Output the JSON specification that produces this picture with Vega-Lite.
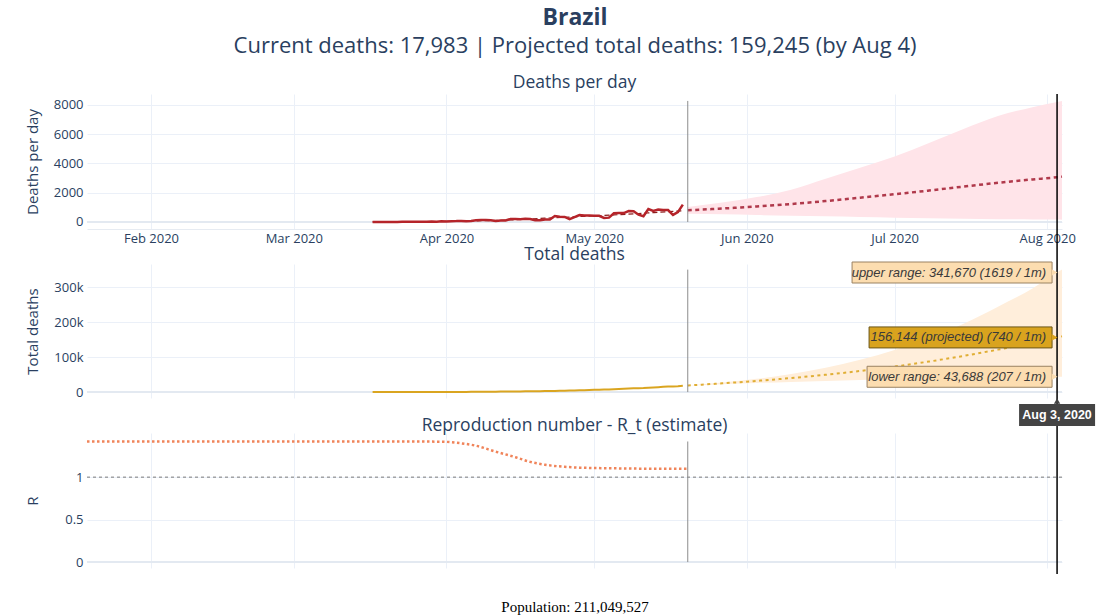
{
  "$schema": "https://vega.github.io/schema/vega-lite/v6.json",
  "background": "white",
  "padding": {"left": 25, "top": 6, "right": 5, "bottom": 5},
  "title": {
    "text": "Brazil",
    "subtitle": "Current deaths: 17,983 | Projected total deaths: 159,245 (by Aug 4)",
    "anchor": "middle",
    "dx": 15,
    "font": "Open Sans",
    "fontSize": 23,
    "fontWeight": "bold",
    "color": "#2a3f5f",
    "subtitleFont": "Open Sans",
    "subtitleFontSize": 22,
    "subtitleColor": "#2a3f5f",
    "subtitlePadding": 6,
    "offset": 17
  },
  "datasets": {
    "obs": [
      {"date": "2020-03-17", "deaths": 1, "total": 1},
      {"date": "2020-03-18", "deaths": 3, "total": 4},
      {"date": "2020-03-19", "deaths": 2, "total": 6},
      {"date": "2020-03-20", "deaths": 5, "total": 11},
      {"date": "2020-03-21", "deaths": 7, "total": 18},
      {"date": "2020-03-22", "deaths": 7, "total": 25},
      {"date": "2020-03-23", "deaths": 9, "total": 34},
      {"date": "2020-03-24", "deaths": 12, "total": 46},
      {"date": "2020-03-25", "deaths": 13, "total": 59},
      {"date": "2020-03-26", "deaths": 18, "total": 77},
      {"date": "2020-03-27", "deaths": 15, "total": 92},
      {"date": "2020-03-28", "deaths": 19, "total": 111},
      {"date": "2020-03-29", "deaths": 25, "total": 136},
      {"date": "2020-03-30", "deaths": 23, "total": 159},
      {"date": "2020-03-31", "deaths": 42, "total": 201},
      {"date": "2020-04-01", "deaths": 40, "total": 241},
      {"date": "2020-04-02", "deaths": 58, "total": 299},
      {"date": "2020-04-03", "deaths": 60, "total": 359},
      {"date": "2020-04-04", "deaths": 73, "total": 432},
      {"date": "2020-04-05", "deaths": 54, "total": 486},
      {"date": "2020-04-06", "deaths": 67, "total": 553},
      {"date": "2020-04-07", "deaths": 114, "total": 667},
      {"date": "2020-04-08", "deaths": 133, "total": 800},
      {"date": "2020-04-09", "deaths": 141, "total": 941},
      {"date": "2020-04-10", "deaths": 115, "total": 1056},
      {"date": "2020-04-11", "deaths": 68, "total": 1124},
      {"date": "2020-04-12", "deaths": 99, "total": 1223},
      {"date": "2020-04-13", "deaths": 105, "total": 1328},
      {"date": "2020-04-14", "deaths": 204, "total": 1532},
      {"date": "2020-04-15", "deaths": 204, "total": 1736},
      {"date": "2020-04-16", "deaths": 188, "total": 1924},
      {"date": "2020-04-17", "deaths": 217, "total": 2141},
      {"date": "2020-04-18", "deaths": 206, "total": 2347},
      {"date": "2020-04-19", "deaths": 115, "total": 2462},
      {"date": "2020-04-20", "deaths": 113, "total": 2575},
      {"date": "2020-04-21", "deaths": 166, "total": 2741},
      {"date": "2020-04-22", "deaths": 165, "total": 2906},
      {"date": "2020-04-23", "deaths": 407, "total": 3313},
      {"date": "2020-04-24", "deaths": 357, "total": 3670},
      {"date": "2020-04-25", "deaths": 346, "total": 4016},
      {"date": "2020-04-26", "deaths": 189, "total": 4205},
      {"date": "2020-04-27", "deaths": 338, "total": 4543},
      {"date": "2020-04-28", "deaths": 474, "total": 5017},
      {"date": "2020-04-29", "deaths": 449, "total": 5466},
      {"date": "2020-04-30", "deaths": 435, "total": 5901},
      {"date": "2020-05-01", "deaths": 428, "total": 6329},
      {"date": "2020-05-02", "deaths": 421, "total": 6750},
      {"date": "2020-05-03", "deaths": 275, "total": 7025},
      {"date": "2020-05-04", "deaths": 296, "total": 7321},
      {"date": "2020-05-05", "deaths": 600, "total": 7921},
      {"date": "2020-05-06", "deaths": 615, "total": 8536},
      {"date": "2020-05-07", "deaths": 610, "total": 9146},
      {"date": "2020-05-08", "deaths": 751, "total": 9897},
      {"date": "2020-05-09", "deaths": 730, "total": 10627},
      {"date": "2020-05-10", "deaths": 496, "total": 11123},
      {"date": "2020-05-11", "deaths": 396, "total": 11519},
      {"date": "2020-05-12", "deaths": 881, "total": 12400},
      {"date": "2020-05-13", "deaths": 749, "total": 13149},
      {"date": "2020-05-14", "deaths": 844, "total": 13993},
      {"date": "2020-05-15", "deaths": 824, "total": 14817},
      {"date": "2020-05-16", "deaths": 816, "total": 15633},
      {"date": "2020-05-17", "deaths": 485, "total": 16118},
      {"date": "2020-05-18", "deaths": 674, "total": 16792},
      {"date": "2020-05-19", "deaths": 1191, "total": 17983}
    ],
    "fit": [
      {"date": "2020-03-17", "fit": 8},
      {"date": "2020-03-24", "fit": 15},
      {"date": "2020-03-31", "fit": 35},
      {"date": "2020-04-07", "fit": 75},
      {"date": "2020-04-14", "fit": 140},
      {"date": "2020-04-21", "fit": 260},
      {"date": "2020-04-28", "fit": 370},
      {"date": "2020-05-05", "fit": 480},
      {"date": "2020-05-12", "fit": 620},
      {"date": "2020-05-19", "fit": 770}
    ],
    "proj": [
      {"date": "2020-05-20", "daily": 800, "dailyLo": 560, "dailyHi": 1030, "total": 18783, "totalLo": 18543, "totalHi": 19013},
      {"date": "2020-05-27", "daily": 920, "dailyLo": 520, "dailyHi": 1330, "total": 24900, "totalLo": 22323, "totalHi": 27300},
      {"date": "2020-06-03", "daily": 1060, "dailyLo": 475, "dailyHi": 1700, "total": 31900, "totalLo": 25802, "totalHi": 37900},
      {"date": "2020-06-10", "daily": 1230, "dailyLo": 430, "dailyHi": 2200, "total": 40000, "totalLo": 28966, "totalHi": 51500},
      {"date": "2020-06-17", "daily": 1430, "dailyLo": 385, "dailyHi": 2950, "total": 49400, "totalLo": 31815, "totalHi": 69500},
      {"date": "2020-06-24", "daily": 1660, "dailyLo": 340, "dailyHi": 3700, "total": 60300, "totalLo": 34349, "totalHi": 92000},
      {"date": "2020-07-01", "daily": 1900, "dailyLo": 295, "dailyHi": 4480, "total": 72900, "totalLo": 36568, "totalHi": 120000},
      {"date": "2020-07-08", "daily": 2150, "dailyLo": 260, "dailyHi": 5400, "total": 87200, "totalLo": 38507, "totalHi": 153000},
      {"date": "2020-07-15", "daily": 2420, "dailyLo": 225, "dailyHi": 6350, "total": 103300, "totalLo": 40201, "totalHi": 195000},
      {"date": "2020-07-22", "daily": 2680, "dailyLo": 195, "dailyHi": 7240, "total": 121300, "totalLo": 41671, "totalHi": 244000},
      {"date": "2020-07-29", "daily": 2910, "dailyLo": 172, "dailyHi": 7850, "total": 141000, "totalLo": 42952, "totalHi": 296000},
      {"date": "2020-08-03", "daily": 3060, "dailyLo": 162, "dailyHi": 8200, "total": 156144, "totalLo": 43688, "totalHi": 341670},
      {"date": "2020-08-04", "daily": 3101, "dailyLo": 160, "dailyHi": 8276, "total": 159245, "totalLo": 43850, "totalHi": 349946}
    ],
    "rt": [
      {"date": "2020-01-19", "r": 1.42},
      {"date": "2020-02-15", "r": 1.42},
      {"date": "2020-03-15", "r": 1.42},
      {"date": "2020-03-31", "r": 1.418},
      {"date": "2020-04-03", "r": 1.405},
      {"date": "2020-04-07", "r": 1.37},
      {"date": "2020-04-11", "r": 1.3},
      {"date": "2020-04-15", "r": 1.235},
      {"date": "2020-04-18", "r": 1.18},
      {"date": "2020-04-21", "r": 1.146},
      {"date": "2020-04-25", "r": 1.122},
      {"date": "2020-04-28", "r": 1.112},
      {"date": "2020-05-05", "r": 1.104},
      {"date": "2020-05-12", "r": 1.1},
      {"date": "2020-05-20", "r": 1.1}
    ],
    "hover": [
      {"date": "2020-08-03", "value": 341670, "label": "upper range: 341,670 (1619 / 1m)", "kind": "upper"},
      {"date": "2020-08-03", "value": 156144, "label": "156,144 (projected) (740 / 1m)", "kind": "proj"},
      {"date": "2020-08-03", "value": 43688, "label": "lower range: 43,688 (207 / 1m)", "kind": "lower"}
    ],
    "one": [{"date": "2020-08-03", "label": "Aug 3, 2020"}]
  },
  "bounds": "flush",
  "spacing": 35,
  "vconcat": [
    {
      "width": 975,
      "height": 135,
      "title": {"text": "Deaths per day", "font": "Open Sans", "fontSize": 17.5, "fontWeight": "normal", "color": "#2a3f5f", "offset": 2, "anchor": "middle"},
      "layer": [
        {
          "data": {"name": "proj"},
          "mark": {"type": "area", "color": "#FFE4E9", "interpolate": "monotone"},
          "encoding": {
            "x": {"field": "date", "type": "temporal", "title": null, "scale": {"domain": [{"year": 2020, "month": 1, "date": 19}, {"year": 2020, "month": 8, "date": 4}]},
              "axis": {"values": [{"year": 2020, "month": 2, "date": 1}, {"year": 2020, "month": 3, "date": 1}, {"year": 2020, "month": 4, "date": 1}, {"year": 2020, "month": 5, "date": 1}, {"year": 2020, "month": 6, "date": 1}, {"year": 2020, "month": 7, "date": 1}, {"year": 2020, "month": 8, "date": 1}],
                "format": "%b %Y", "labelFlush": false, "labelOverlap": false, "labelPadding": 3, "domain": true, "domainColor": "#E6EBF2", "domainWidth": 1}},
            "y": {"field": "dailyHi", "type": "quantitative", "scale": {"domain": [-480, 8750], "nice": false, "zero": false}, "title": "Deaths per day", "axis": {"values": [0, 2000, 4000, 6000, 8000], "tickCount": 5, "format": "d", "labelOverlap": false, "labelSeparation": 0}},
            "y2": {"field": "dailyLo"}
          }
        },
        {
          "data": {"name": "one"},
          "mark": {"type": "rule", "color": "#E3E9F1", "strokeWidth": 2},
          "encoding": {
            "y": {"datum": 0, "type": "quantitative", "scale": {"domain": [-480, 8750], "nice": false, "zero": false}, "title": "Deaths per day", "axis": {"values": [0, 2000, 4000, 6000, 8000], "tickCount": 5, "format": "d", "labelOverlap": false, "labelSeparation": 0}}
          }
        },
        {
          "data": {"name": "fit"},
          "mark": {"type": "line", "color": "#8B1C1C", "strokeWidth": 1.2, "strokeDash": [5, 3], "interpolate": "monotone"},
          "encoding": {
            "x": {"field": "date", "type": "temporal", "title": null, "scale": {"domain": [{"year": 2020, "month": 1, "date": 19}, {"year": 2020, "month": 8, "date": 4}]}},
            "y": {"field": "fit", "type": "quantitative", "scale": {"domain": [-480, 8750], "nice": false, "zero": false}, "title": "Deaths per day", "axis": {"values": [0, 2000, 4000, 6000, 8000], "tickCount": 5, "format": "d", "labelOverlap": false, "labelSeparation": 0}}
          }
        },
        {
          "data": {"name": "obs"},
          "mark": {"type": "line", "color": "#B5242A", "strokeWidth": 2.5},
          "encoding": {
            "x": {"field": "date", "type": "temporal", "title": null, "scale": {"domain": [{"year": 2020, "month": 1, "date": 19}, {"year": 2020, "month": 8, "date": 4}]}},
            "y": {"field": "deaths", "type": "quantitative", "scale": {"domain": [-480, 8750], "nice": false, "zero": false}, "title": "Deaths per day", "axis": {"values": [0, 2000, 4000, 6000, 8000], "tickCount": 5, "format": "d", "labelOverlap": false, "labelSeparation": 0}}
          }
        },
        {
          "data": {"name": "proj"},
          "mark": {"type": "line", "color": "#B0394B", "strokeWidth": 2.5, "strokeDash": [4, 3.5], "interpolate": "monotone"},
          "encoding": {
            "x": {"field": "date", "type": "temporal", "title": null, "scale": {"domain": [{"year": 2020, "month": 1, "date": 19}, {"year": 2020, "month": 8, "date": 4}]}},
            "y": {"field": "daily", "type": "quantitative", "scale": {"domain": [-480, 8750], "nice": false, "zero": false}, "title": "Deaths per day", "axis": {"values": [0, 2000, 4000, 6000, 8000], "tickCount": 5, "format": "d", "labelOverlap": false, "labelSeparation": 0}}
          }
        },
        {
          "data": {"name": "one"},
          "mark": {"type": "rule", "color": "#8c8c8c", "strokeWidth": 1},
          "encoding": {
            "x": {"datum": {"year": 2020, "month": 5, "date": 20}, "type": "temporal"},
            "y": {"datum": 0, "type": "quantitative"},
            "y2": {"datum": 8276}
          }
        },
        {
          "data": {"name": "one"},
          "mark": {"type": "rule", "color": "#000000", "strokeWidth": 1.5, "y2Offset": 35},
          "encoding": {
            "x": {"datum": {"year": 2020, "month": 8, "date": 3}, "type": "temporal"},
            "y": {"datum": 8750, "type": "quantitative"},
            "y2": {"datum": -480}
          }
        }
      ]
    },
    {
      "width": 975,
      "height": 134,
      "title": {"text": "Total deaths", "font": "Open Sans", "fontSize": 17.5, "fontWeight": "normal", "color": "#2a3f5f", "offset": -2, "anchor": "middle"},
      "layer": [
        {
          "data": {"name": "proj"},
          "mark": {"type": "area", "color": "#FFEEDB", "interpolate": "monotone"},
          "encoding": {
            "x": {"field": "date", "type": "temporal", "title": null, "scale": {"domain": [{"year": 2020, "month": 1, "date": 19}, {"year": 2020, "month": 8, "date": 4}]},
              "axis": {"values": [{"year": 2020, "month": 2, "date": 1}, {"year": 2020, "month": 3, "date": 1}, {"year": 2020, "month": 4, "date": 1}, {"year": 2020, "month": 5, "date": 1}, {"year": 2020, "month": 6, "date": 1}, {"year": 2020, "month": 7, "date": 1}, {"year": 2020, "month": 8, "date": 1}], "labels": false}},
            "y": {"field": "totalHi", "type": "quantitative", "scale": {"domain": [-17000, 366000], "nice": false, "zero": false}, "title": "Total deaths", "axis": {"values": [0, 100000, 200000, 300000], "labelExpr": "datum.value === 0 ? '0' : (datum.value / 1000) + 'k'", "labelOverlap": false}},
            "y2": {"field": "totalLo"}
          }
        },
        {
          "data": {"name": "one"},
          "mark": {"type": "rule", "color": "#E3E9F1", "strokeWidth": 2},
          "encoding": {
            "y": {"datum": 0, "type": "quantitative", "scale": {"domain": [-17000, 366000], "nice": false, "zero": false}, "title": "Total deaths", "axis": {"values": [0, 100000, 200000, 300000], "labelExpr": "datum.value === 0 ? '0' : (datum.value / 1000) + 'k'", "labelOverlap": false}}
          }
        },
        {
          "data": {"name": "obs"},
          "mark": {"type": "line", "color": "#DAA520", "strokeWidth": 2},
          "encoding": {
            "x": {"field": "date", "type": "temporal", "title": null, "scale": {"domain": [{"year": 2020, "month": 1, "date": 19}, {"year": 2020, "month": 8, "date": 4}]}},
            "y": {"field": "total", "type": "quantitative", "scale": {"domain": [-17000, 366000], "nice": false, "zero": false}, "title": "Total deaths", "axis": {"values": [0, 100000, 200000, 300000], "labelExpr": "datum.value === 0 ? '0' : (datum.value / 1000) + 'k'", "labelOverlap": false}}
          }
        },
        {
          "data": {"name": "proj"},
          "mark": {"type": "line", "color": "#E0AE35", "strokeWidth": 2, "strokeDash": [3, 3.5], "interpolate": "monotone"},
          "encoding": {
            "x": {"field": "date", "type": "temporal", "title": null, "scale": {"domain": [{"year": 2020, "month": 1, "date": 19}, {"year": 2020, "month": 8, "date": 4}]}},
            "y": {"field": "total", "type": "quantitative", "scale": {"domain": [-17000, 366000], "nice": false, "zero": false}, "title": "Total deaths", "axis": {"values": [0, 100000, 200000, 300000], "labelExpr": "datum.value === 0 ? '0' : (datum.value / 1000) + 'k'", "labelOverlap": false}}
          }
        },
        {
          "data": {"name": "one"},
          "mark": {"type": "rule", "color": "#8c8c8c", "strokeWidth": 1},
          "encoding": {
            "x": {"datum": {"year": 2020, "month": 5, "date": 20}, "type": "temporal"},
            "y": {"datum": 0, "type": "quantitative"},
            "y2": {"datum": 349946}
          }
        },
        {
          "data": {"name": "one"},
          "mark": {"type": "rule", "color": "#000000", "strokeWidth": 1.5, "y2Offset": 35},
          "encoding": {
            "x": {"datum": {"year": 2020, "month": 8, "date": 3}, "type": "temporal"},
            "y": {"datum": 366000, "type": "quantitative"},
            "y2": {"datum": -17000}
          }
        },
        {
          "data": {"name": "hover"},
          "transform": [{"filter": "datum.kind === 'upper'"}],
          "mark": {"type": "rect", "fill": "#FCDDB0", "stroke": "#9A8262", "strokeWidth": 1, "xOffset": -205, "x2Offset": -5, "yOffset": -10.5, "y2Offset": 10.5},
          "encoding": {
            "x": {"field": "date", "type": "temporal"},
            "x2": {"field": "date"},
            "y": {"field": "value", "type": "quantitative"},
            "y2": {"field": "value"}
          }
        },
        {
          "data": {"name": "hover"},
          "transform": [{"filter": "datum.kind === 'proj'"}],
          "mark": {"type": "rect", "fill": "#D9A31E", "stroke": "#6B5518", "strokeWidth": 1, "xOffset": -188, "x2Offset": -5, "yOffset": -10.5, "y2Offset": 10.5},
          "encoding": {
            "x": {"field": "date", "type": "temporal"},
            "x2": {"field": "date"},
            "y": {"field": "value", "type": "quantitative"},
            "y2": {"field": "value"}
          }
        },
        {
          "data": {"name": "hover"},
          "transform": [{"filter": "datum.kind === 'lower'"}],
          "mark": {"type": "rect", "fill": "#FCDDB0", "stroke": "#9A8262", "strokeWidth": 1, "xOffset": -190, "x2Offset": -5, "yOffset": -10.5, "y2Offset": 10.5},
          "encoding": {
            "x": {"field": "date", "type": "temporal"},
            "x2": {"field": "date"},
            "y": {"field": "value", "type": "quantitative"},
            "y2": {"field": "value"}
          }
        },
        {
          "data": {"name": "hover"},
          "mark": {"type": "point", "shape": "triangle-right", "filled": true, "size": 45, "xOffset": -2.5, "opacity": 1},
          "encoding": {
            "x": {"field": "date", "type": "temporal"},
            "y": {"field": "value", "type": "quantitative"},
            "color": {"field": "kind", "type": "nominal", "scale": {"domain": ["upper", "proj", "lower"], "range": ["#FCDDB0", "#D9A31E", "#FCDDB0"]}, "legend": null}
          }
        },
        {
          "data": {"name": "hover"},
          "mark": {"type": "text", "align": "right", "baseline": "middle", "dx": -11, "font": "Liberation Sans", "fontSize": 13, "fontStyle": "italic", "color": "#3a3a3a"},
          "encoding": {
            "x": {"field": "date", "type": "temporal"},
            "y": {"field": "value", "type": "quantitative"},
            "text": {"field": "label"}
          }
        },
        {
          "data": {"name": "one"},
          "mark": {"type": "rect", "fill": "#444444", "xOffset": -38, "x2Offset": 38, "yOffset": 6, "y2Offset": 28},
          "encoding": {
            "x": {"field": "date", "type": "temporal"},
            "x2": {"field": "date"},
            "y": {"datum": -17000, "type": "quantitative"},
            "y2": {"datum": -17000}
          }
        },
        {
          "data": {"name": "one"},
          "mark": {"type": "point", "shape": "triangle-up", "filled": true, "size": 40, "color": "#444444", "opacity": 1, "yOffset": 3},
          "encoding": {
            "x": {"field": "date", "type": "temporal"},
            "y": {"datum": -17000, "type": "quantitative"}
          }
        },
        {
          "data": {"name": "one"},
          "mark": {"type": "text", "align": "center", "baseline": "middle", "yOffset": 17, "font": "Liberation Sans", "fontSize": 12.5, "fontWeight": "bold", "color": "#ffffff"},
          "encoding": {
            "x": {"field": "date", "type": "temporal"},
            "y": {"datum": -17000, "type": "quantitative"},
            "text": {"field": "label"}
          }
        }
      ]
    },
    {
      "width": 975,
      "height": 135,
      "title": {"text": "Reproduction number - R_t (estimate)", "font": "Open Sans", "fontSize": 17.5, "fontWeight": "normal", "color": "#2a3f5f", "offset": -2, "anchor": "middle"},
      "layer": [
        {
          "data": {"name": "rt"},
          "mark": {"type": "line", "color": "#F0845A", "strokeWidth": 2.5, "strokeDash": [2.5, 2.5], "interpolate": "monotone"},
          "encoding": {
            "x": {"field": "date", "type": "temporal", "scale": {"domain": [{"year": 2020, "month": 1, "date": 19}, {"year": 2020, "month": 8, "date": 4}]},
              "title": "Population: 211,049,527",
              "axis": {"values": [{"year": 2020, "month": 2, "date": 1}, {"year": 2020, "month": 3, "date": 1}, {"year": 2020, "month": 4, "date": 1}, {"year": 2020, "month": 5, "date": 1}, {"year": 2020, "month": 6, "date": 1}, {"year": 2020, "month": 7, "date": 1}, {"year": 2020, "month": 8, "date": 1}],
                "labels": false, "titleFont": "Liberation Serif", "titleFontSize": 15, "titleColor": "#000000", "titleFontWeight": "normal", "titlePadding": 31}},
            "y": {"field": "r", "type": "quantitative", "scale": {"domain": [-0.07, 1.52], "nice": false, "zero": false}, "title": "R", "axis": {"values": [0, 0.5, 1], "format": "~g", "labelOverlap": false}}
          }
        },
        {
          "data": {"name": "one"},
          "mark": {"type": "rule", "color": "#E3E9F1", "strokeWidth": 2},
          "encoding": {
            "y": {"datum": 0, "type": "quantitative", "scale": {"domain": [-0.07, 1.52], "nice": false, "zero": false}, "title": "R", "axis": {"values": [0, 0.5, 1], "format": "~g", "labelOverlap": false}}
          }
        },
        {
          "data": {"name": "one"},
          "mark": {"type": "rule", "color": "#7a7a7a", "strokeWidth": 1, "strokeDash": [3, 3]},
          "encoding": {
            "y": {"datum": 1, "type": "quantitative"}
          }
        },
        {
          "data": {"name": "one"},
          "mark": {"type": "rule", "color": "#8c8c8c", "strokeWidth": 1},
          "encoding": {
            "x": {"datum": {"year": 2020, "month": 5, "date": 20}, "type": "temporal"},
            "y": {"datum": 0, "type": "quantitative"},
            "y2": {"datum": 1.42}
          }
        },
        {
          "data": {"name": "one"},
          "mark": {"type": "rule", "color": "#000000", "strokeWidth": 1.5, "y2Offset": 6},
          "encoding": {
            "x": {"datum": {"year": 2020, "month": 8, "date": 3}, "type": "temporal"},
            "y": {"datum": 1.52, "type": "quantitative"},
            "y2": {"datum": -0.07}
          }
        }
      ]
    }
  ],
  "config": {
    "view": {"stroke": null},
    "font": "Open Sans",
    "axis": {
      "labelFont": "Open Sans",
      "labelFontSize": 13,
      "labelColor": "#2a3f5f",
      "titleFont": "Open Sans",
      "titleFontSize": 15,
      "titleFontWeight": "normal",
      "titleColor": "#2a3f5f",
      "gridColor": "#EBF0F8",
      "gridWidth": 1,
      "domain": false,
      "ticks": false,
      "labelOverlap": false
    },
    "axisY": {"labelPadding": 4, "minExtent": 34, "maxExtent": 34, "titlePadding": 13, "labelOverlap": false},
    "axisX": {"labelPadding": 3}
  }
}
